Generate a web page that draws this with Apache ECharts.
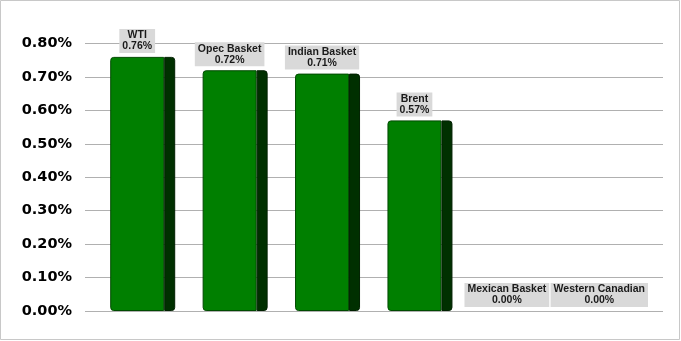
<!DOCTYPE html>
<html><head><meta charset="utf-8">
<script src="https://cdn.jsdelivr.net/npm/echarts@6/dist/echarts.min.js"></script>
<style>html,body{margin:0;padding:0;background:#fff}#c{width:681px;height:341px}</style>
</head><body><div id="c"></div>
<script>
const categories = ['WTI','Opec Basket','Indian Basket','Brent','Mexican Basket','Western Canadian'];
const values = [0.76, 0.72, 0.71, 0.57, 0.00, 0.00];
const yTicks = [0, 0.1, 0.2, 0.3, 0.4, 0.5, 0.6, 0.7, 0.8];

const chart = echarts.init(document.getElementById('c'), null, {renderer:'canvas'});
const frontData = values.map(v => ({value: v, itemStyle: {borderWidth: v > 0 ? 1 : 0}}));
const sideData = values.map(v => ({value: v, itemStyle: {borderWidth: v > 0 ? 1 : 0}}));
chart.setOption({
  animation: false,
  backgroundColor: '#fff',
  graphic: [{type:'rect', shape:{x:0.5,y:0.5,width:679,height:339}, style:{fill:'none', stroke:'#c8c8c8', lineWidth:1}, silent:true}],
  grid: [
    {left: 85, right: 18, top: 43.5, bottom: 30},
    {left: 96.5, right: 30, top: 43.5, bottom: 30}
  ],
  xAxis: [
    {type:'category', gridIndex:0, data: categories, show:false},
    {type:'category', gridIndex:1, data: categories, show:false}
  ],
  yAxis: [
    {type:'value', gridIndex:0, min:yTicks[0], max:yTicks[yTicks.length-1], interval:0.1,
     axisLine:{show:false}, axisTick:{show:false},
     splitLine:{lineStyle:{color:'#b0b0b0', width:1}},
     axisLabel:{margin:13, color:'#000', fontFamily:'DejaVu Sans', fontWeight:'bold', fontSize:14.5,
       formatter: v => v.toFixed(2) + '%'}},
    {type:'value', gridIndex:1, min:yTicks[0], max:yTicks[yTicks.length-1], interval:0.1, show:false, splitLine:{show:false}}
  ],
  series: [
    {type:'bar', xAxisIndex:1, yAxisIndex:1, data: frontData, barWidth:54, barGap:'0%',
     itemStyle:{color:'#007f00', borderColor:'#004a00', borderRadius:[3,0,0,3]},
     label:{show:true, position:'top', distance:4,
       formatter: p => '{n|' + p.name + '}\n{v|' + p.value.toFixed(2) + '%}',
       backgroundColor:'#d9d9d9', padding:[1,3,1,3],
       rich:{
         n:{fontFamily:'Liberation Sans', fontWeight:'bold', fontSize:10.5, color:'#1a1a1a', lineHeight:11, align:'center'},
         v:{fontFamily:'Liberation Sans', fontWeight:'bold', fontSize:10.5, color:'#1a1a1a', lineHeight:11, align:'center'}
       }}},
    {type:'bar', xAxisIndex:1, yAxisIndex:1, data: sideData, barWidth:11, barGap:'0%',
     itemStyle:{color:'#003000', borderColor:'#002000', borderRadius:[0,3,3,0]}}
  ]
});
</script></body></html>
